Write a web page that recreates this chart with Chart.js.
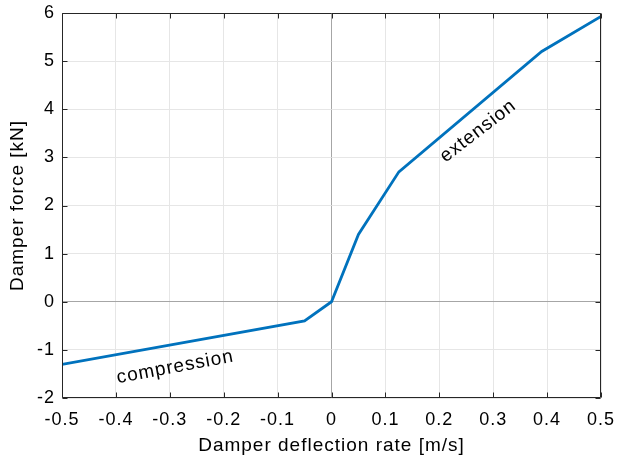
<!DOCTYPE html>
<html>
<head>
<meta charset="utf-8">
<script src="https://cdn.jsdelivr.net/npm/chart.js@4.4.1/dist/chart.umd.min.js"></script>
<style>
  html, body { margin: 0; padding: 0; background: #fff; }
  #wrap { width: 618px; height: 464px; }
</style>
</head>
<body>
<div id="wrap"><canvas id="canvas1" width="618" height="464"></canvas></div>
<script>
// damper characteristic: deflection rate [m/s] vs force [kN]
var rates  = [-0.5, -0.05, 0, 0.05, 0.125, 0.39, 0.5];
var forces = [-1.3, -0.4, 0, 1.4, 2.7, 5.2, 5.93];
var xTicks = [-0.5, -0.4, -0.3, -0.2, -0.1, 0, 0.1, 0.2, 0.3, 0.4, 0.5];
var yTicks = [-2, -1, 0, 1, 2, 3, 4, 5, 6];

var FONT = 'Liberation Sans, Arial, Helvetica, sans-serif';

var Damper = {

	init: function(){
		Chart.defaults.font.family = FONT;
		Chart.defaults.color = '#000';
		var points = rates.map(function(r, i){ return {x: r, y: forces[i]}; });
		Damper.generateLineGraph(points);
	},

	// slightly wider text spacing, set again whenever the canvas state may have been reset
	spacingPlugin: {
		id: 'spacing',
		beforeUpdate: function(chart){ chart.ctx.letterSpacing = '1px'; },
		beforeLayout: function(chart){ chart.ctx.letterSpacing = '1px'; },
		beforeDraw: function(chart){ chart.ctx.letterSpacing = '1px'; }
	},

	// box, inward tick marks and the two region labels
	framePlugin: {
		id: 'frame',
		afterDraw: function(chart){
			var ctx = chart.ctx, a = chart.chartArea;
			var xs = chart.scales.x, ys = chart.scales.y;
			var L = Math.round(a.left) + 0.5, R = Math.round(a.right) - 0.5;
			var T = Math.round(a.top) + 0.5, B = Math.round(a.bottom) - 0.5;
			ctx.save();
			ctx.strokeStyle = '#262626';
			ctx.lineWidth = 1;
			ctx.beginPath();
			ctx.rect(L, T, R - L, B - T);
			xTicks.forEach(function(v){
				var px = Math.round(xs.getPixelForValue(v)) + 0.5;
				ctx.moveTo(px, B); ctx.lineTo(px, B - 5);
				ctx.moveTo(px, T); ctx.lineTo(px, T + 5);
			});
			yTicks.forEach(function(v){
				var py = Math.round(ys.getPixelForValue(v)) + 0.5;
				ctx.moveTo(L, py); ctx.lineTo(L + 5, py);
				ctx.moveTo(R, py); ctx.lineTo(R - 5, py);
			});
			ctx.stroke();

			ctx.fillStyle = '#000';
			ctx.font = '19px ' + FONT;
			ctx.textAlign = 'center';
			ctx.textBaseline = 'middle';
			[
				{text: 'compression', x: -0.29, y: -1.36, angle: -10.6},
				{text: 'extension',   x: 0.272, y: 3.545, angle: -37.5}
			].forEach(function(t){
				ctx.save();
				ctx.translate(xs.getPixelForValue(t.x), ys.getPixelForValue(t.y));
				ctx.rotate(t.angle * Math.PI / 180);
				ctx.fillText(t.text, 0, 0);
				ctx.restore();
			});
			ctx.restore();
		}
	},

	generateLineGraph: function(points){
		var ctx = document.getElementById('canvas1').getContext('2d');
		var gridColor = function(c){
			return c.tick && c.tick.value === 0 ? '#a6a6a6' : '#e6e6e6';
		};
		window.myLine = new Chart(ctx, {
			type: 'scatter',
			data: {
				datasets: [{
					data: points,
					showLine: true,
					borderColor: '#0072BD',
					backgroundColor: '#0072BD',
					borderWidth: 2.8,
					pointRadius: 0,
					tension: 0
				}]
			},
			plugins: [Damper.spacingPlugin, Damper.framePlugin],
			options: {
				responsive: false,
				animation: false,
				events: [],
				layout: { padding: { top: 13, right: 17, left: 0, bottom: 0 } },
				plugins: { legend: { display: false }, tooltip: { enabled: false } },
				scales: {
					x: {
						type: 'linear',
						min: -0.5, max: 0.5,
						afterBuildTicks: function(s){ s.ticks = xTicks.map(function(v){ return {value: v}; }); },
						afterFit: function(s){
							s.height = 66;
							s.paddingLeft = 0;
							s.paddingRight = 0;
						},
						grid: { color: gridColor, drawTicks: false },
						border: { display: false },
						ticks: {
							padding: 11,
							font: { size: 18 },
							maxRotation: 0,
							callback: function(v){ return String(Math.round(v * 10) / 10); }
						},
						title: {
							display: true,
							text: 'Damper deflection rate [m/s]',
							font: { size: 19 },
							padding: { top: 0, bottom: 7 }
						}
					},
					y: {
						type: 'linear',
						min: -2, max: 6,
						afterBuildTicks: function(s){ s.ticks = yTicks.map(function(v){ return {value: v}; }); },
						afterFit: function(s){
							s.width = 62;
							s.paddingTop = 0;
							s.paddingBottom = 0;
						},
						grid: { color: gridColor, drawTicks: false },
						border: { display: false },
						ticks: {
							padding: 7,
							font: { size: 18 }
						},
						title: {
							display: true,
							text: 'Damper force [kN]',
							font: { size: 19 },
							padding: { top: 6, bottom: 0 }
						}
					}
				}
			}
		});
	}
};

Damper.init();
</script>
</body>
</html>
